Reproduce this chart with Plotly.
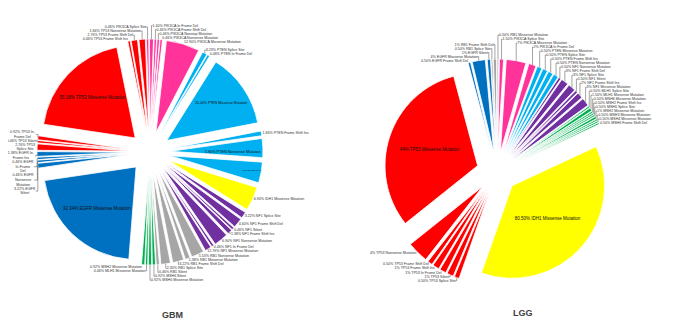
import plotly.graph_objects as go

# ---------------- GBM (clockwise from 12 o'clock) ----------------
gbm_labels = [
    "0.46% PIK3CA Splice Site", "1.40% PIK3CA In Frame Del", "0.46% PIK3CA Frame Shift Del",
    "0.46% PIK3CA Nonstop Mutation", "0.46% PIK3CA Nonsense Mutation", "12.90% PIK3CA Missense Mutation",
    "3.23% PTEN Splice Site", "0.46% PTEN In Frame Del", "25.00% PTEN Missense Mutation",
    "1.84% PTEN Frame Shift Ins", "5.90% PTEN Nonsense Mutation", "3.27% PTEN Frame Shift Del",
    "6.90% IDH1 Missense Mutation",
    "3.22% NF1 Splice Site", "4.60% NF1 Frame Shift Del", "0.46% NF1 Silent", "1.38% NF1 Frame Shift Ins",
    "6.90% NF1 Nonsense Mutation", "0.46% NF1 In Frame Del", "2.76% NF1 Missense Mutation",
    "5.53% RB1 Nonsense Mutation", "1.38% RB1 Missense Mutation", "3.22% RB1 Frame Shift Del",
    "2.30% RB1 Splice Site", "0.46% RB1 Silent",
    "0.92% MSH6 Silent", "0.92% MSH6 Missense Mutation", "0.46% MLH1 Missense Mutation",
    "0.92% MSH2 Missense Mutation",
    "32.34% EGFR Missense Mutation", "3.22% EGFR Silent", "0.46% EGFR Nonsense Mutation",
    "0.46% EGFR In Frame Del", "1.38% EGFR In Frame Ins",
    "2.76% TP53 Splice Site", "0.46% TP53 Silent", "0.92% TP53 In Frame Del",
    "35.18% TP53 Missense Mutation", "0.46% TP53 Frame Shift Ins", "2.76% TP53 Frame Shift Del",
    "1.84% TP53 Nonsense Mutation",
]
gbm_genes = [
    "PIK3CA", "PIK3CA", "PIK3CA", "PIK3CA", "PIK3CA", "PIK3CA",
    "PTEN", "PTEN", "PTEN", "PTEN", "PTEN", "PTEN",
    "IDH1",
    "NF1", "NF1", "NF1", "NF1", "NF1", "NF1", "NF1",
    "RB1", "RB1", "RB1", "RB1", "RB1",
    "MMR", "MMR", "MMR", "MMR",
    "EGFR", "EGFR", "EGFR", "EGFR", "EGFR",
    "TP53", "TP53", "TP53", "TP53", "TP53", "TP53", "TP53",
]
gbm_sizes = [
    1.5, 2.5, 1.5, 1.5, 1.5, 21,
    3, 1.5, 47, 3, 12, 13,
    15,
    4, 6, 1.5, 3, 9, 1.5, 4,
    8, 3, 7, 6, 2,
    2, 2, 1.5, 2,
    77, 3, 1.5, 1.5, 3,
    4, 1.5, 2.5,
    70, 1.5, 4, 4,
]
gbm_inside = ["25.00% PTEN Missense Mutation", "5.90% PTEN Nonsense Mutation",
              "3.27% PTEN Frame Shift Del", "32.34% EGFR Missense Mutation",
              "35.18% TP53 Missense Mutation"]
# labels that the reference wraps onto several lines
gbm_wrapped = {
    "3.22% EGFR Silent": "3.22% EGFR<br>Silent",
    "0.46% EGFR Nonsense Mutation": "0.46% EGFR<br>Nonsense<br>Mutation",
    "0.46% EGFR In Frame Del": "0.46% EGFR<br>In-Frame<br>Del",
    "1.38% EGFR In Frame Ins": "1.38% EGFR In-<br>Frame Ins",
    "2.76% TP53 Splice Site": "2.76% TP53<br>Splice Site",
    "0.92% TP53 In Frame Del": "0.92% TP53 In-<br>Frame Del",
}

# ---------------- LGG (clockwise from about 11:30) ----------------
lgg_labels = [
    "0.50% EGFR Frame Shift Del", "4% EGFR Missense Mutation", "1% EGFR Silent",
    "0.50% RB1 Splice Site", "1% RB1 Frame Shift Del", "0.50% RB1 Missense Mutation",
    "1.50% PIK3CA Splice Site", "7% PIK3CA Missense Mutation", "2% PIK3CA In Frame Del",
    "0.50% PTEN Missense Mutation", "0.50% PTEN Splice Site", "0.50% PTEN Frame Shift Ins",
    "0.50% PTEN Nonsense Mutation",
    "0.50% NF1 Nonsense Mutation", "3% NF1 Frame Shift Del", "3% NF1 Splice Site", "0.50% NF1 Silent",
    "2% NF1 Frame Shift Ins", "3% NF1 Missense Mutation",
    "0.50% MLH1 Splice Site", "1.50% MLH1 Missense Mutation", "0.50% MSH6 Missense Mutation",
    "0.50% MSH2 Frame Shift Ins", "0.50% MSH6 Splice Site", "1% MSH2 Missense Mutation",
    "0.50% MSH3 Missense Mutation", "0.50% MSH4 Missense Mutation", "0.50% MSH6 Frame Shift Del",
    "80.50% IDH1 Missense Mutation",
    "0.50% TP53 Splice Site", "1% TP53 Silent", "1% TP53 In Frame Del", "1% TP53 Frame Shift Ins",
    "0.50% TP53 Frame Shift Del", "4% TP53 Nonsense Mutation",
    "44% TP53 Missense Mutation",
]
lgg_genes = [
    "EGFR", "EGFR", "EGFR",
    "RB1", "RB1", "RB1",
    "PIK3CA", "PIK3CA", "PIK3CA",
    "PTEN", "PTEN", "PTEN", "PTEN",
    "NF1", "NF1", "NF1", "NF1", "NF1", "NF1",
    "MMR", "MMR", "MMR", "MMR", "MMR", "MMR", "MMR", "MMR", "MMR",
    "IDH1",
    "TP53", "TP53", "TP53", "TP53", "TP53", "TP53",
    "TP53",
]
lgg_sizes = [
    1.5, 8, 2,
    1, 2, 1,
    2.5, 12, 4.5,
    3, 3, 3, 3,
    1.5, 4.5, 4.5, 1.5, 3.5, 5,
    1, 2, 1, 1, 1, 1.5, 1, 1, 1,
    130,
    3, 4, 4, 4, 3, 13,
    110,
]
lgg_inside = ["80.50% IDH1 Missense Mutation", "44% TP53 Missense Mutation"]
lgg_wrapped = {}

gene_colors = {
    "TP53": "#FF0000", "PIK3CA": "#FF3399", "PTEN": "#00B0F0", "EGFR": "#0070C0",
    "IDH1": "#FFFF00", "NF1": "#7030A0", "RB1": "#A6A6A6", "MMR": "#00B050",
}

FONT = "Liberation Sans"
W, H, OFF = 692, 313, 8


def px(x):
    return (x - OFF) / W


def py(y):
    return 1 - (y - OFF) / H


def pie(labels, genes, sizes, inside, wrapped, domain, rotation, pull):
    return go.Pie(
        labels=labels, values=sizes,
        text=[wrapped.get(l, l) for l in labels],
        textinfo="text", hoverinfo="text",
        sort=False, direction="clockwise", rotation=rotation,
        pull=[pull] * len(sizes),
        automargin=False,
        marker=dict(colors=[gene_colors[g] for g in genes], line=dict(color="white", width=0.8)),
        textposition=["inside" if l in inside else "outside" for l in labels],
        insidetextorientation="horizontal",
        insidetextfont=dict(family=FONT, size=4.5, color="#111111"),
        outsidetextfont=dict(family=FONT, size=3.6, color="#333333"),
        domain=domain, showlegend=False,
    )


gbm_dom = dict(x=[px(37), px(263)], y=[py(265), py(39)])
lgg_dom = dict(x=[px(384), px(610)], y=[py(285), py(59)])

fig = go.Figure()
fig.add_trace(pie(gbm_labels, gbm_genes, gbm_sizes, gbm_inside, gbm_wrapped, gbm_dom, -2, 0.22))
fig.add_trace(pie(lgg_labels, lgg_genes, lgg_sizes, lgg_inside, lgg_wrapped, lgg_dom, -15, 0.22))

fig.update_layout(
    width=W, height=H,
    autosize=False,
    margin=dict(l=0, r=0, t=0, b=0, pad=0, autoexpand=False),
    paper_bgcolor="white", plot_bgcolor="white",
    font=dict(family=FONT),
    annotations=[
        dict(text="<b>GBM</b>", x=px(172), y=py(315), xref="paper", yref="paper", xanchor="center",
             yanchor="middle", showarrow=False, font=dict(family=FONT, size=9, color="#404040")),
        dict(text="<b>LGG</b>", x=px(523), y=py(313), xref="paper", yref="paper", xanchor="center",
             yanchor="middle", showarrow=False, font=dict(family=FONT, size=9, color="#404040")),
    ],
)

fig.write_html("out.html")
